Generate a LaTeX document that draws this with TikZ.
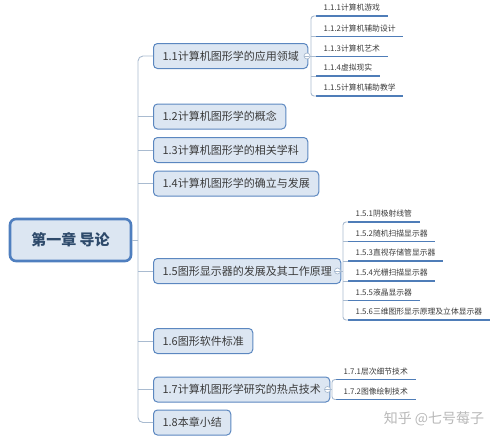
\documentclass[tikz,border=0pt]{standalone}
\usepackage{fontspec}
\setmainfont{Noto Sans CJK SC}
\definecolor{boxfill}{HTML}{DCE6F2}
\definecolor{boxline}{HTML}{5B87C0}
\definecolor{rootline}{HTML}{4F7FBF}
\definecolor{roottext}{HTML}{2E4A6B}
\definecolor{conncol}{HTML}{A9BBD0}
\definecolor{ulcol}{HTML}{4F7DB8}
\definecolor{txtcol}{HTML}{3A3A3A}
\tikzset{
  rootbox/.style={draw=rootline, line width=2.6pt, fill=boxfill, rounded corners=6pt,
    minimum width=121pt, minimum height=42pt, font=\fontsize{15}{17}\selectfont\bfseries, text=roottext},
  lvone/.style={draw=boxline, line width=1pt, fill=boxfill, rounded corners=4pt, anchor=west,
    minimum height=25pt, inner xsep=9pt, font=\fontsize{11}{13}\selectfont, text=txtcol},
  subitem/.style={anchor=south west, inner xsep=7.5pt, inner ysep=3.5pt,
    font=\fontsize{7.8}{9}\selectfont, text=txtcol, text height=7pt, text depth=1.5pt},
  uline/.style={draw=ulcol, line width=1.8pt},
  conn/.style={draw=conncol, line width=0.9pt},
  knob/.style={circle, draw=conncol, line width=0.7pt, fill=white, inner sep=0pt, minimum size=6pt},
}
\begin{document}
\begin{tikzpicture}[x=1pt,y=-1pt]
\useasboundingbox (0,0) rectangle (500,440);
% root
\node[rootbox] (root) at (70.5,240) {第一章 导论};
% level one
\node[lvone] (n11) at (153,56) {1.1计算机图形学的应用领域};
\node[lvone] (n12) at (153,116.5) {1.2计算机图形学的概念};
\node[lvone] (n13) at (153,150) {1.3计算机图形学的相关学科};
\node[lvone] (n14) at (153,183.5) {1.4计算机图形学的确立与发展};
\node[lvone] (n15) at (153,271) {1.5图形显示器的发展及其工作原理};
\node[lvone] (n16) at (153,341) {1.6图形软件标准};
\node[lvone] (n17) at (153,389.5) {1.7计算机图形学研究的热点技术};
\node[lvone] (n18) at (153,422.5) {1.8本章小结};
% trunk
\coordinate (tr) at (138,240);
\draw[conn, rounded corners=5pt] (n11.west) -| (tr) |- (n18.west);
\draw[conn] (root.east) -- (tr);
\foreach \n in {n12,n13,n14,n15,n16,n17} \draw[conn] (\n.west -| tr) -- (\n.west);
% 1.1 children
\node[subitem] (s111) at (316,16) {1.1.1计算机游戏};
\node[subitem] (s112) at (316,36.5) {1.1.2计算机辅助设计};
\node[subitem] (s113) at (316,56.5) {1.1.3计算机艺术};
\node[subitem] (s114) at (316,76) {1.1.4虚拟现实};
\node[subitem] (s115) at (316,96) {1.1.5计算机辅助教学};
\foreach \n in {s111,s112,s113,s114,s115} \draw[uline] (\n.south west) -- (\n.south east);
\coordinate (b11) at (311,56);
\draw[conn, rounded corners=3pt] (s111.south west) -| (b11) |- (s115.south west);
\foreach \n in {s112,s113,s114} \draw[conn] (\n.south west -| b11) -- (\n.south west);
\node[knob] (k11) at (307,56) {};
\draw[conn] (n11.east) -- (k11.west);
\draw[conn] (k11.east) -- (b11);
\draw[conncol, line width=0.6pt] ([xshift=-1.8pt]k11.center) -- ([xshift=1.8pt]k11.center);
% 1.5 children
\node[subitem] (s151) at (348,222) {1.5.1阴极射线管};
\node[subitem] (s152) at (348,241.5) {1.5.2随机扫描显示器};
\node[subitem] (s153) at (348,261) {1.5.3直视存储管显示器};
\node[subitem] (s154) at (348,281) {1.5.4光栅扫描显示器};
\node[subitem] (s155) at (348,300.5) {1.5.5液晶显示器};
\node[subitem] (s156) at (348,320) {1.5.6三维图形显示原理及立体显示器};
\foreach \n in {s151,s152,s153,s154,s155,s156} \draw[uline] (\n.south west) -- (\n.south east);
\coordinate (b15) at (343,271);
\draw[conn, rounded corners=3pt] (s151.south west) -| (b15) |- (s156.south west);
\foreach \n in {s152,s153,s154,s155} \draw[conn] (\n.south west -| b15) -- (\n.south west);
\node[knob] (k15) at (337.5,271) {};
\draw[conn] (n15.east) -- (k15.west);
\draw[conn] (k15.east) -- (b15);
\draw[conncol, line width=0.6pt] ([xshift=-1.8pt]k15.center) -- ([xshift=1.8pt]k15.center);
% 1.7 children
\node[subitem] (s171) at (336,379.5) {1.7.1层次细节技术};
\node[subitem] (s172) at (336,399.5) {1.7.2图像绘制技术};
\foreach \n in {s171,s172} \draw[uline] (\n.south west) -- (\n.south east);
\coordinate (b17) at (332,389.5);
\draw[conn, rounded corners=3pt] (s171.south west) -| (b17) |- (s172.south west);
\node[knob] (k17) at (327.5,389.5) {};
\draw[conn] (n17.east) -- (k17.west);
\draw[conn] (k17.east) -- (b17);
\draw[conncol, line width=0.6pt] ([xshift=-1.8pt]k17.center) -- ([xshift=1.8pt]k17.center);
% watermark
\node[text=black!28, font=\fontsize{14}{16}\selectfont] (wm) at (434,419) {知乎 @七号莓子};
\end{tikzpicture}
\end{document}
